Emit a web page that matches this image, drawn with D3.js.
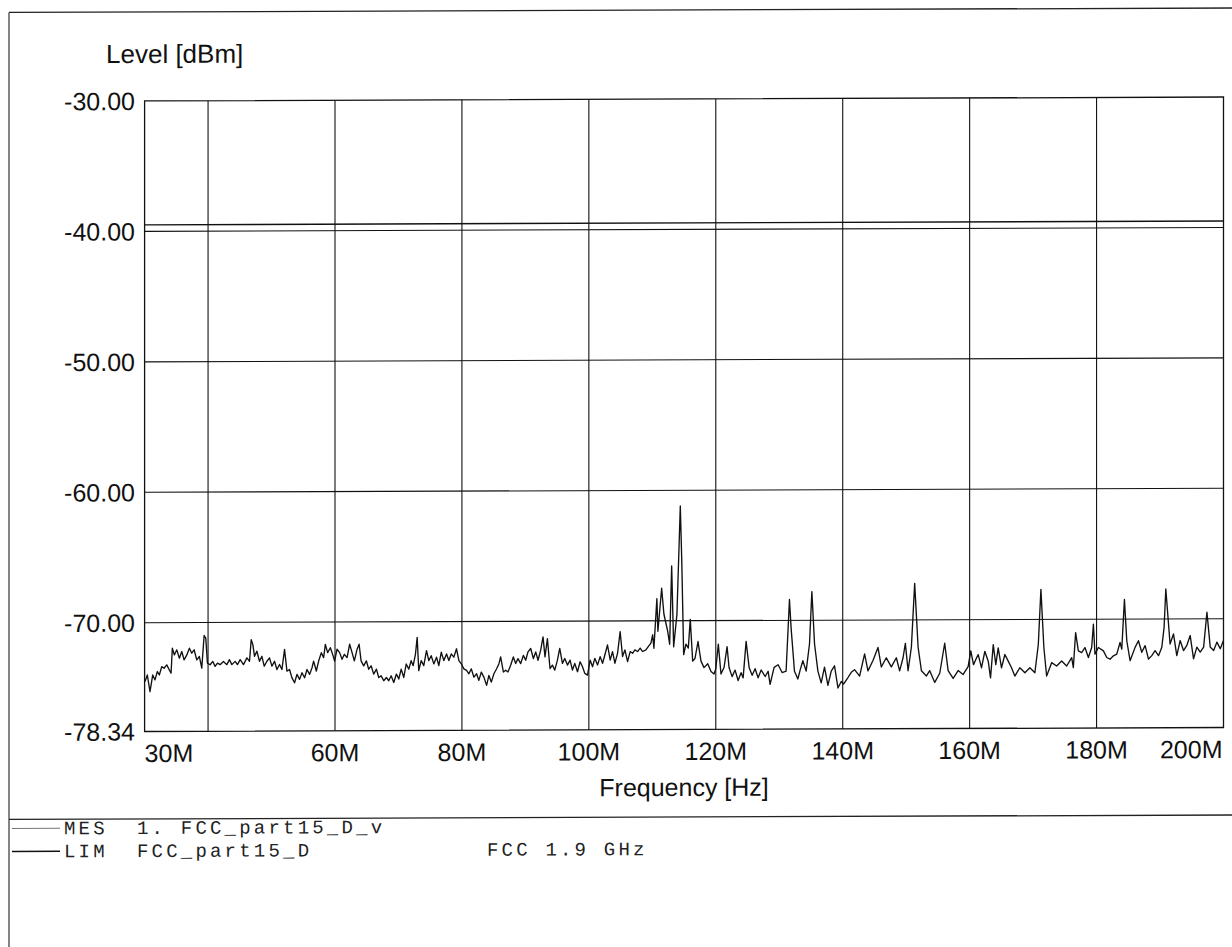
<!DOCTYPE html>
<html><head><meta charset="utf-8">
<script src="https://cdn.jsdelivr.net/npm/d3@7"></script>
<style>
html,body{margin:0;padding:0;background:#fff;}
svg{display:block;}
</style></head><body>
<svg id="chart" width="1232" height="947"></svg>
<script>
// ---- data ----
const xGridValues = [40, 60, 80, 100, 120, 140, 160, 180];
const xLabelValues = [30, 60, 80, 100, 120, 140, 160, 180, 200];
const yTickValues = [-30, -40, -50, -60, -70, -78.34];
const xDomain = [30, 200];
const yDomain = [-78.34, -30];
const limitFreq = [30, 200];
const limitLevel = [-39.5, -39.5];
const yTitle = "Level [dBm]";
const xTitle = "Frequency [Hz]";
const legendKeys = ["MES", "LIM"];
const legendTexts = ["1. FCC_part15_D_v", "FCC_part15_D"];
const legendExtras = ["", "FCC 1.9 GHz"];
const mesTrace = [
[30.06,-74.52],[30.43,-74.01],[30.85,-75.29],[31.28,-74.01],[31.64,-74.39],[32.00,-73.75],[32.32,-74.01],[32.70,-73.37],[33.06,-73.50],[33.49,-73.24],[33.90,-73.63],[34.17,-73.88],[34.37,-71.97],[34.69,-72.48],[35.07,-72.09],[35.48,-72.73],[35.86,-72.22],[36.22,-72.86],[36.65,-72.48],[37.06,-71.97],[37.43,-72.35],[37.80,-72.09],[38.22,-72.86],[38.63,-72.61],[39.01,-73.50],[39.38,-71.00],[39.64,-71.20],[39.90,-73.12],[40.32,-73.24],[40.75,-72.99],[41.11,-73.37],[41.48,-73.12],[41.90,-73.24],[42.42,-72.99],[42.96,-73.24],[43.37,-72.86],[43.75,-73.24],[44.27,-72.99],[44.63,-73.24],[45.06,-72.86],[45.58,-73.24],[46.12,-72.73],[46.53,-72.99],[46.80,-71.33],[47.06,-71.71],[47.32,-72.61],[47.69,-72.22],[48.11,-72.99],[48.48,-72.61],[48.85,-73.37],[49.27,-72.99],[49.68,-72.73],[50.06,-73.37],[50.47,-72.99],[50.85,-73.63],[51.26,-73.24],[51.64,-73.63],[52.05,-72.09],[52.43,-73.75],[52.84,-73.63],[53.22,-74.27],[53.63,-74.65],[54.01,-74.01],[54.42,-74.39],[54.80,-73.88],[55.21,-74.27],[55.59,-73.63],[56.00,-74.01],[56.38,-73.50],[56.63,-72.99],[57.06,-73.75],[57.42,-72.99],[57.85,-72.35],[58.21,-72.73],[58.48,-71.71],[58.84,-72.35],[59.27,-71.97],[59.63,-72.48],[59.94,-72.99],[60.32,-72.09],[60.73,-72.35],[61.11,-72.86],[61.48,-72.48],[61.90,-72.73],[62.31,-71.71],[62.69,-72.35],[63.05,-72.99],[63.48,-72.09],[63.80,-71.71],[64.11,-72.99],[64.52,-73.37],[64.95,-72.99],[65.31,-73.63],[65.69,-73.37],[66.10,-74.01],[66.53,-73.63],[66.89,-74.27],[67.27,-74.14],[67.68,-74.52],[68.11,-74.27],[68.47,-74.52],[68.85,-74.14],[69.26,-74.65],[69.68,-74.01],[70.05,-74.39],[70.43,-73.63],[70.84,-74.27],[71.22,-73.24],[71.63,-73.63],[72.00,-72.99],[72.32,-73.37],[72.68,-72.48],[72.95,-71.20],[73.20,-73.75],[73.58,-72.99],[73.99,-73.37],[74.42,-72.22],[74.78,-72.99],[75.16,-72.61],[75.57,-73.24],[76.00,-72.73],[76.36,-73.37],[76.74,-72.35],[77.15,-72.99],[77.58,-72.48],[77.94,-72.99],[78.32,-72.48],[78.73,-72.73],[79.15,-72.09],[79.52,-72.99],[79.90,-73.24],[80.31,-73.63],[80.73,-73.75],[81.10,-74.01],[81.48,-73.63],[81.89,-74.27],[82.31,-74.01],[82.67,-74.52],[83.05,-73.88],[83.46,-74.27],[83.89,-74.90],[84.25,-74.14],[84.63,-74.65],[85.04,-74.01],[85.47,-73.63],[85.83,-73.24],[86.10,-72.73],[86.53,-73.88],[86.89,-73.75],[87.25,-73.88],[87.68,-73.37],[88.10,-72.73],[88.47,-73.24],[88.83,-72.86],[89.26,-73.24],[89.68,-72.61],[90.05,-72.99],[90.41,-72.35],[90.84,-72.09],[91.26,-72.86],[91.63,-72.35],[91.99,-72.99],[92.41,-72.22],[92.78,-71.20],[93.09,-72.73],[93.47,-71.33],[93.88,-73.63],[94.26,-73.37],[94.63,-73.75],[95.05,-72.99],[95.41,-72.09],[95.84,-73.24],[96.20,-72.86],[96.63,-73.37],[97.04,-72.99],[97.42,-73.75],[97.78,-73.24],[98.21,-73.88],[98.62,-73.12],[99.00,-73.50],[99.36,-74.01],[99.79,-74.14],[100.20,-72.99],[100.58,-73.50],[100.94,-72.86],[101.37,-73.37],[101.78,-72.73],[102.16,-73.24],[102.52,-72.61],[102.94,-71.84],[103.36,-72.99],[103.73,-72.35],[104.10,-73.24],[104.52,-72.48],[104.93,-70.82],[105.31,-72.73],[105.68,-72.22],[106.10,-73.12],[106.51,-72.35],[106.89,-72.48],[107.25,-72.22],[107.68,-72.35],[108.09,-72.09],[108.47,-72.35],[108.99,-72.22],[109.36,-71.97],[109.78,-71.71],[110.05,-71.07],[110.25,-72.10],[110.72,-68.30],[110.88,-70.80],[111.47,-67.50],[111.83,-69.50],[112.42,-70.80],[112.73,-71.80],[113.05,-65.80],[113.36,-72.00],[113.88,-69.50],[114.41,-61.20],[114.63,-65.20],[114.94,-72.60],[115.30,-71.80],[115.67,-72.10],[115.98,-69.90],[116.36,-73.10],[116.72,-72.90],[117.20,-71.60],[117.67,-73.10],[118.15,-73.60],[118.73,-73.30],[119.25,-73.90],[119.72,-74.10],[120.00,-73.70],[120.40,-71.80],[120.82,-74.10],[121.30,-73.60],[121.78,-72.00],[122.09,-73.60],[122.57,-74.30],[123.04,-73.80],[123.52,-74.60],[123.99,-74.00],[124.31,-74.40],[124.78,-71.60],[125.25,-73.60],[125.73,-74.20],[126.20,-73.70],[126.67,-74.40],[127.15,-73.80],[127.78,-74.30],[128.25,-73.90],[128.56,-74.90],[129.19,-73.60],[129.82,-73.40],[130.45,-74.00],[131.08,-73.90],[131.61,-68.40],[131.87,-70.60],[132.40,-73.90],[132.93,-74.50],[133.30,-73.80],[133.72,-73.10],[134.24,-73.90],[134.77,-71.80],[135.14,-67.80],[135.56,-71.80],[136.09,-73.90],[136.61,-74.80],[137.13,-73.60],[137.67,-75.00],[138.19,-73.90],[138.71,-73.50],[139.25,-75.20],[139.77,-74.70],[140.13,-74.90],[140.83,-74.40],[141.35,-74.00],[141.87,-73.80],[142.66,-74.30],[143.45,-72.60],[143.98,-73.90],[144.77,-73.10],[145.56,-72.10],[146.08,-73.60],[146.87,-72.90],[147.66,-73.60],[148.45,-72.90],[148.97,-73.90],[149.51,-72.90],[149.87,-71.80],[150.30,-73.90],[150.82,-72.10],[151.34,-67.20],[151.88,-72.10],[152.40,-73.90],[153.19,-74.30],[153.71,-73.90],[154.50,-74.80],[155.29,-74.10],[156.07,-71.80],[156.61,-73.90],[157.40,-74.50],[158.19,-73.90],[158.97,-74.20],[159.76,-73.60],[160.18,-72.40],[160.61,-73.45],[161.08,-72.94],[161.35,-72.68],[161.87,-73.70],[162.39,-72.43],[162.93,-73.19],[163.29,-74.47],[163.72,-71.92],[164.12,-73.45],[164.50,-72.17],[165.02,-73.70],[165.55,-72.68],[166.08,-73.19],[166.60,-73.70],[167.12,-74.34],[167.91,-73.70],[168.70,-74.09],[169.49,-73.70],[170.28,-74.09],[170.82,-71.92],[171.23,-67.70],[171.70,-72.17],[172.13,-74.34],[172.92,-73.32],[173.71,-73.58],[174.50,-73.19],[175.29,-73.58],[176.08,-72.94],[176.34,-73.70],[176.70,-71.02],[177.13,-72.43],[177.65,-72.55],[178.17,-72.17],[178.71,-72.94],[179.23,-72.17],[179.50,-70.38],[179.75,-72.68],[180.29,-72.17],[181.08,-72.43],[181.60,-72.94],[182.12,-73.07],[182.66,-72.81],[183.18,-72.68],[183.70,-71.79],[183.97,-72.30],[184.39,-68.50],[184.76,-71.66],[185.28,-73.19],[186.07,-72.17],[186.60,-71.66],[187.12,-72.55],[187.65,-72.04],[188.18,-73.07],[188.70,-72.81],[189.22,-72.43],[189.76,-72.81],[190.28,-72.17],[190.64,-70.64],[190.91,-67.70],[191.58,-71.92],[192.12,-71.15],[192.64,-72.81],[193.17,-71.66],[193.70,-72.43],[194.22,-72.04],[194.75,-71.28],[195.28,-73.07],[195.80,-72.17],[196.33,-72.55],[196.87,-72.17],[197.39,-69.50],[197.91,-72.17],[198.45,-72.43],[198.97,-71.79],[199.49,-72.30],[200.00,-71.66]
];

// ---- layout ----
const W = 1232, H = 947;
const plot = {left: 144.6, right: 1223.5, top: 99, bottom: 729.5};
const sansFont = "'Liberation Sans', Arial, Helvetica, sans-serif";
const monoFont = "'Liberation Mono', 'Courier New', monospace";
const skewDeg = -0.21;

const svg = d3.select("#chart");
const tanS = Math.tan(skewDeg * Math.PI / 180);
const root = svg.append("g")
  .attr("transform", `translate(0,${-tanS * 683}) skewY(${skewDeg})`);

const x = d3.scaleLinear().domain(xDomain).range([plot.left, plot.right]);
const y = d3.scaleLinear().domain(yDomain).range([plot.bottom, plot.top]);

// outer frame
root.append("line").attr("x1", 9).attr("x2", W).attr("y1", 10).attr("y2", 10)
  .attr("stroke", "#222").attr("stroke-width", 1.3);
root.append("line").attr("x1", 9).attr("x2", 9).attr("y1", 10).attr("y2", H)
  .attr("stroke", "#333").attr("stroke-width", 1.2);
root.append("line").attr("x1", 9).attr("x2", W).attr("y1", 817).attr("y2", 817)
  .attr("stroke", "#222").attr("stroke-width", 1.3);

// grid
const grid = root.append("g");
grid.selectAll("line.v").data(xGridValues).join("line").attr("class", "v")
  .attr("x1", d => x(d)).attr("x2", d => x(d))
  .attr("y1", plot.top).attr("y2", plot.bottom)
  .attr("stroke", "#111").attr("stroke-width", 1.1);
grid.selectAll("line.h").data(yTickValues.slice(1, -1)).join("line").attr("class", "h")
  .attr("x1", plot.left).attr("x2", plot.right)
  .attr("y1", d => y(d)).attr("y2", d => y(d))
  .attr("stroke", "#111").attr("stroke-width", 1.1);

// plot border
root.append("rect").attr("x", plot.left).attr("y", plot.top)
  .attr("width", plot.right - plot.left).attr("height", plot.bottom - plot.top)
  .attr("fill", "none").attr("stroke", "#111").attr("stroke-width", 1.3);

// limit line
const limitData = limitFreq.map((f, i) => [f, limitLevel[i]]);
root.append("path").datum(limitData)
  .attr("d", d3.line().x(d => x(d[0])).y(d => y(d[1])))
  .attr("fill", "none").attr("stroke", "#111").attr("stroke-width", 1.4);

// measurement trace
root.append("path").datum(mesTrace)
  .attr("d", d3.line().x(d => x(d[0])).y(d => y(d[1])))
  .attr("fill", "none").attr("stroke", "#111").attr("stroke-width", 1.35)
  .attr("stroke-linejoin", "round");

// y tick labels
root.selectAll("text.yt").data(yTickValues).join("text").attr("class", "yt")
  .attr("x", 135).attr("y", d => y(d)).attr("dy", "0.36em")
  .attr("text-anchor", "end")
  .attr("font-family", sansFont).attr("font-size", 25).attr("fill", "#111")
  .text(d => d.toFixed(2));

// x tick labels
root.selectAll("text.xt").data(xLabelValues).join("text").attr("class", "xt")
  .attr("x", (d, i) => i === 0 ? plot.left : (i === xLabelValues.length - 1 ? plot.right - 1 : x(d)))
  .attr("y", 760)
  .attr("text-anchor", (d, i) => i === 0 ? "start" : (i === xLabelValues.length - 1 ? "end" : "middle"))
  .attr("font-family", sansFont).attr("font-size", 25).attr("fill", "#111")
  .text(d => d + "M");

// titles
root.append("text").attr("x", 106).attr("y", 61)
  .attr("font-family", sansFont).attr("font-size", 26).attr("fill", "#111")
  .text(yTitle);
root.append("text").attr("x", (plot.left + plot.right) / 2).attr("y", 796)
  .attr("text-anchor", "middle")
  .attr("font-family", sansFont).attr("font-size", 25).attr("fill", "#111")
  .text(xTitle);

// legend
const leg = root.append("g");
const rowY = [832, 855];
const fontPx = 19;
const charW = 14.6;
legendKeys.forEach((k, i) => {
  leg.append("line").attr("x1", 12).attr("x2", 60)
    .attr("y1", rowY[i] - 6).attr("y2", rowY[i] - 6)
    .attr("stroke", i === 0 ? "#777" : "#111").attr("stroke-width", i === 0 ? 1 : 1.5);
  leg.append("text").attr("x", 64).attr("y", rowY[i])
    .attr("font-family", monoFont).attr("font-size", fontPx).attr("fill", "#222")
    .attr("letter-spacing", charW - fontPx * 0.6)
    .style("white-space", "pre")
    .text(k + "  " + legendTexts[i]);
  if (legendExtras[i]) {
    leg.append("text").attr("x", 487).attr("y", rowY[i])
      .attr("font-family", monoFont).attr("font-size", fontPx).attr("fill", "#222")
      .attr("letter-spacing", charW - fontPx * 0.6)
      .style("white-space", "pre")
      .text(legendExtras[i]);
  }
});
</script>
</body></html>
